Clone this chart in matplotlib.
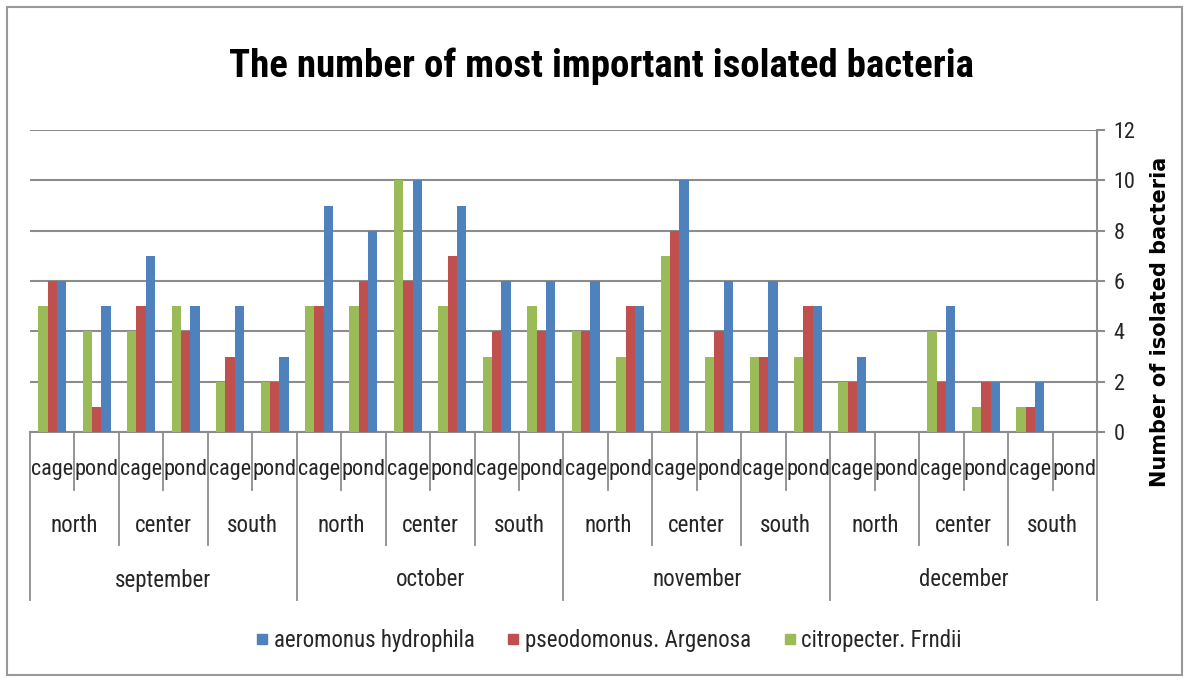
import matplotlib
matplotlib.use('Agg')
from matplotlib import pyplot as plt
from matplotlib import font_manager
from matplotlib.lines import Line2D
import numpy as np

# pick a narrow font if the box has one, else Lato
names = {f.name for f in font_manager.fontManager.ttflist}
main_font = 'Lato'
for c in ['Liberation Sans Narrow', 'Roboto Condensed', 'Open Sans Condensed', 'Arial Narrow']:
    if c in names:
        main_font = c
        break
plt.rcParams['font.family'] = [main_font, 'DejaVu Sans']

months = ['september', 'october', 'november', 'december']
regions = ['north', 'center', 'south']
sites = ['cage', 'pond']

# values per category, order: month -> region -> site
aeromonus = [6, 5, 7, 5, 5, 3,
             9, 8, 10, 9, 6, 6,
             6, 5, 10, 6, 6, 5,
             3, 0, 5, 2, 2, 0]
pseodomonus = [6, 1, 5, 4, 3, 2,
               5, 6, 6, 7, 4, 4,
               4, 5, 8, 4, 3, 5,
               2, 0, 2, 2, 1, 0]
citropecter = [5, 4, 4, 5, 2, 2,
               5, 5, 10, 5, 3, 5,
               4, 3, 7, 3, 3, 3,
               2, 0, 4, 1, 1, 0]

fig = plt.figure(figsize=(11.89, 6.82), dpi=100)
ax = fig.add_axes([30/1189, 1-432/682, 1067/1189, 302/682])

x = np.arange(len(aeromonus))
w = 0.21
grid_c = '#8c8c8c'
txt_c = '#262626'
colors = {'aeromonus hydrophila': '#4F81BD',
          'pseodomonus. Argenosa': '#C0504D',
          'citropecter. Frndii': '#9BBB59'}
ax.bar(x - w, citropecter, w, color=colors['citropecter. Frndii'], zorder=3)
ax.bar(x, pseodomonus, w, color=colors['pseodomonus. Argenosa'], zorder=3)
ax.bar(x + w, aeromonus, w, color=colors['aeromonus hydrophila'], zorder=3)

ax.set_xlim(-0.5, len(x) - 0.5)
ax.set_ylim(0, 12)
ax.set_yticks(range(0, 13, 2))
ax.yaxis.tick_right()
ax.tick_params(axis='y', length=6, color=grid_c, width=1.5, labelsize=16, pad=6, labelcolor=txt_c)
ax.set_xticks([])
ax.grid(axis='y', color=grid_c, linewidth=1.5, zorder=0)
for s in ['top', 'left']:
    ax.spines[s].set_visible(False)
ax.spines['right'].set_color(grid_c)
ax.spines['right'].set_linewidth(1.5)
ax.spines['bottom'].set_color(grid_c)
ax.spines['bottom'].set_linewidth(1.5)

# multi level category axis
tr = ax.get_xaxis_transform()
h = 302
for i in range(len(x) + 1):
    xe = i - 0.5
    if i % 6 == 0:
        yb = -168/h
    elif i % 2 == 0:
        yb = -113/h
    else:
        yb = -58/h
    ax.plot([xe, xe], [0, yb], transform=tr, color=grid_c, lw=1.3, clip_on=False)
for i in range(len(x)):
    ax.text(i, -37/h, sites[i % 2], transform=tr, ha='center', va='center', fontsize=16, color=txt_c)
for j in range(len(months) * len(regions)):
    ax.text(2*j + 0.5, -93/h, regions[j % 3], transform=tr, ha='center', va='center', fontsize=16.5, color=txt_c)
for k, m in enumerate(months):
    ax.text(6*k + 2.5, -148/h, m, transform=tr, ha='center', va='center', fontsize=16.5, color=txt_c)

fig.text(601/1189, 1-66/682, 'The number of most important isolated bacteria',
         ha='center', va='center', fontsize=28, fontweight='bold')
fig.text(1160/1189, 1-322/682, 'Number of isolated bacteria', rotation=90,
         ha='center', va='center', fontsize=15, fontweight='bold', family='DejaVu Sans')

handles = [Line2D([], [], marker='s', linestyle='', markersize=7.5, color=c) for c in colors.values()]
fig.legend(handles, list(colors.keys()), loc='center', bbox_to_anchor=(609/1189, 1-641/682),
           ncol=3, frameon=False, fontsize=16.5, handlelength=0.5,
           columnspacing=1.45, handletextpad=0.25, labelcolor=txt_c)

fig.patches.append(plt.Rectangle((7/1189, 7/682), 1175/1189, 668/682, transform=fig.transFigure,
                                 fill=False, edgecolor='#999999', linewidth=1.5))

plt.savefig('out.png', dpi=100)
